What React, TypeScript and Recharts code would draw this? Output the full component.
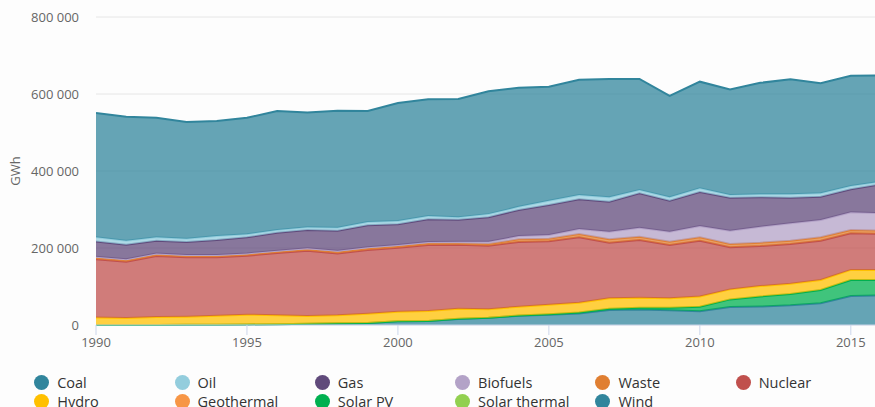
import React from 'react';
import { AreaChart, Area, XAxis, YAxis, CartesianGrid } from 'recharts';

const years = [1990, 1991, 1992, 1993, 1994, 1995, 1996, 1997, 1998, 1999, 2000, 2001, 2002, 2003, 2004, 2005, 2006, 2007, 2008, 2009, 2010, 2011, 2012, 2013, 2014, 2015, 2016];

const coal = [323200, 322000, 310600, 303000, 298800, 302400, 308800, 297800, 303800, 288500, 306600, 303500, 307000, 319000, 309000, 296200, 299400, 307400, 288400, 263400, 277000, 274400, 289600, 298600, 286000, 286000, 276500];
const oil = [10800, 10400, 8800, 8500, 10300, 8200, 7000, 7000, 7700, 8500, 8500, 8000, 7000, 8300, 8300, 11200, 11200, 11400, 8600, 8800, 9600, 6900, 7800, 8700, 8800, 8600, 6600];
const gas = [40000, 38000, 33000, 33700, 38900, 41800, 46700, 47700, 52000, 57200, 53700, 59000, 56700, 63700, 67700, 77900, 77100, 77900, 89300, 80500, 88400, 85700, 76300, 66700, 60500, 59700, 75400];
const biofuels = [1500, 1600, 1800, 1800, 1900, 2000, 2000, 2200, 2500, 2800, 3000, 3500, 4000, 5500, 8400, 9700, 13000, 19700, 23400, 26000, 29200, 34600, 41600, 45000, 44900, 46000, 45000];
const waste = [4500, 4500, 5000, 4300, 4200, 4000, 4100, 4000, 4400, 4300, 4200, 4600, 3800, 4500, 7100, 6600, 8500, 8900, 8600, 8500, 8800, 8600, 8700, 8600, 8800, 8700, 8700];
const nuclear = [151200, 146600, 158200, 154200, 151900, 153200, 161500, 169600, 160900, 165300, 166200, 171200, 166200, 165300, 167900, 164600, 169900, 144500, 150200, 138600, 144800, 109300, 104000, 103400, 102000, 95000, 93300];
const hydro = [19700, 17800, 20500, 21000, 23000, 25300, 23500, 20400, 20600, 24000, 25000, 26000, 26400, 21700, 23000, 25000, 25700, 27100, 25600, 24100, 27000, 26000, 27000, 26500, 26000, 26000, 26500];
const geothermal = [0, 0, 0, 0, 0, 0, 0, 0, 0, 0, 0, 0, 0, 0, 0, 0, 0, 0, 20, 20, 30, 20, 30, 80, 100, 130, 180];
const solarPV = [0, 0, 0, 0, 0, 0, 0, 0, 0, 0, 60, 80, 200, 300, 600, 1300, 2200, 3100, 4400, 6600, 11700, 20000, 26000, 29500, 34500, 41500, 39500];
const solarThermal = [0, 0, 0, 0, 0, 0, 0, 0, 0, 0, 0, 0, 0, 0, 0, 0, 0, 0, 0, 0, 0, 0, 0, 0, 0, 0, 0];
const wind = [70, 100, 300, 600, 900, 1500, 2000, 3000, 4500, 5500, 9500, 10500, 15800, 18700, 24000, 26500, 30000, 39000, 40500, 38500, 35500, 46500, 48000, 51000, 56500, 75500, 77000];

const seriesNames = ['Coal', 'Oil', 'Gas', 'Biofuels', 'Waste', 'Nuclear', 'Hydro', 'Geothermal', 'Solar PV', 'Solar thermal', 'Wind'];
const seriesColors = ['#31859c', '#93cddd', '#604a7b', '#b3a2c7', '#e07f32', '#c0504d', '#ffc000', '#f79646', '#00b050', '#92d050', '#31859c'];
const seriesValues = [coal, oil, gas, biofuels, waste, nuclear, hydro, geothermal, solarPV, solarThermal, wind];

const xTicks = [1990, 1995, 2000, 2005, 2010, 2015];
const yTicks = [0, 200000, 400000, 600000, 800000];
const yLabel = 'GWh';

const data = years.map((year, i) => {
  const row: Record<string, number> = { year };
  seriesNames.forEach((name, s) => {
    row[name] = seriesValues[s][i];
  });
  return row;
});

const fmt = (v: number) => String(v).replace(/\B(?=(\d{3})+(?!\d))/g, ' ');

const FONT = "'Open Sans', sans-serif";
const thinSeries = ['Geothermal', 'Solar thermal'];

export default function App() {
  const stackOrder = [...seriesNames].reverse();
  return (
    <div
      style={{
        position: 'fixed',
        left: 0,
        top: 0,
        width: 875,
        height: 407,
        overflow: 'hidden',
        background: '#fdfdfd',
        fontFamily: FONT,
      }}
    >
      <AreaChart
        width={881}
        height={407}
        data={data}
        margin={{ top: 17, right: 0, bottom: 52, left: 0 }}
        style={{ fontFamily: FONT }}
      >
        <CartesianGrid vertical={false} stroke="#e6e6e6" />
        <XAxis
          dataKey="year"
          type="number"
          domain={[1990, 2016]}
          ticks={xTicks}
          allowDataOverflow
          height={30}
          tickSize={10}
          tickMargin={3}
          axisLine={{ stroke: '#ccd6eb' }}
          tickLine={{ stroke: '#ccd6eb' }}
          tick={{ fill: '#666666', fontSize: 13, fontFamily: FONT }}
        />
        <YAxis
          type="number"
          domain={[0, 800000]}
          ticks={yTicks}
          width={96}
          axisLine={false}
          tickLine={false}
          tickSize={6}
          tickMargin={11}
          tickFormatter={fmt}
          tick={{ fill: '#666666', fontSize: 13, fontFamily: FONT }}
        />
        {stackOrder.map((name) => {
          const idx = seriesNames.indexOf(name);
          const thin = thinSeries.includes(name);
          return (
            <Area
              key={name}
              dataKey={name}
              stackId="1"
              type="linear"
              stroke={thin ? 'none' : seriesColors[idx]}
              strokeWidth={thin ? 0 : 2}
              fill={seriesColors[idx]}
              fillOpacity={0.75}
              dot={false}
              activeDot={false}
              isAnimationActive={false}
            />
          );
        })}
      </AreaChart>
      <svg style={{ position: 'absolute', left: 0, top: 0 }} width={40} height={340}>
        <text
          x={15}
          y={171}
          transform="rotate(-90 15 171)"
          textAnchor="middle"
          dominantBaseline="central"
          fill="#666666"
          fontSize={13}
          fontFamily={FONT}
        >
          {yLabel}
        </text>
      </svg>
      {seriesNames.map((name, i) => {
        const row = i < 6 ? 0 : 1;
        const col = i < 6 ? i : i - 6;
        const cx = 41.7 + col * 140.3;
        const cy = row === 0 ? 382.7 : 401.7;
        return (
          <React.Fragment key={name}>
            <div
              style={{
                position: 'absolute',
                left: cx - 7.5,
                top: cy - 7.5,
                width: 15,
                height: 15,
                borderRadius: '50%',
                background: seriesColors[i],
              }}
            />
            <div
              style={{
                position: 'absolute',
                left: cx + 15.5,
                top: cy - 9,
                height: 18,
                lineHeight: '18px',
                fontSize: 14.5,
                color: '#333333',
                whiteSpace: 'nowrap',
                fontFamily: FONT,
              }}
            >
              {name}
            </div>
          </React.Fragment>
        );
      })}
    </div>
  );
}
